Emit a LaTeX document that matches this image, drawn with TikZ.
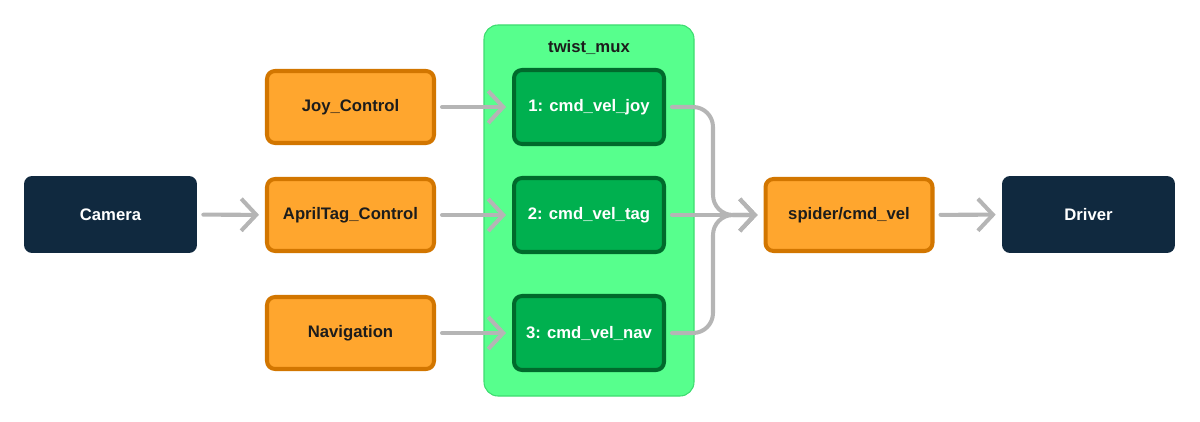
\documentclass[tikz,border=0pt]{standalone}
\usepackage{fontspec}
\setmainfont{Liberation Sans}
\usetikzlibrary{arrows.meta}
\definecolor{navy}{HTML}{10293F}
\definecolor{orfill}{HTML}{FFA62E}
\definecolor{ordraw}{HTML}{D27600}
\definecolor{muxbg}{HTML}{57FF8D}
\definecolor{muxline}{HTML}{3EDC70}
\definecolor{gnfill}{HTML}{00B04F}
\definecolor{gndraw}{HTML}{006A2C}
\definecolor{arrgray}{HTML}{B5B5B5}
\definecolor{txt}{HTML}{1C1C1C}
\begin{document}
\begin{tikzpicture}[x=0.02cm,y=-0.02cm,>={Straight Barb[length=0.3cm,width=0.64cm]},line join=round,line cap=round,font=\fontsize{9.5}{11}\selectfont\bfseries,
	hw/.style={fill=navy,text=white,rounded corners=0.16cm,minimum width=3.46cm,minimum height=1.54cm},
	topic/.style={fill=orfill,draw=ordraw,line width=2.3pt,text=txt,rounded corners=0.16cm,minimum width=3.34cm,minimum height=1.44cm},
	muxin/.style={fill=gnfill,draw=gndraw,line width=2.3pt,text=white,rounded corners=0.16cm,minimum width=3.0cm,minimum height=1.48cm},
	link/.style={->,draw=arrgray,line width=2.3pt,shorten <=0.12cm,shorten >=0.12cm}]
	\useasboundingbox (0,0) rectangle (1200,422);
	\draw[fill=muxbg,draw=muxline,line width=0.6pt,rounded corners=0.28cm] (484,25) rectangle (694,396);
	\node[text=txt] (muxlbl) at (589,47) {twist\_mux};
	\node[hw] (cam) at (110.5,214.5) {Camera};
	\node[topic] (joyc) at (350.5,107) {Joy\_Control};
	\node[topic] (tagc) at (350.5,215) {AprilTag\_Control};
	\node[topic] (navc) at (350.5,333) {Navigation};
	\node[muxin] (joy) at (589,107) {1: cmd\_vel\_joy};
	\node[muxin] (tag) at (589,215) {2: cmd\_vel\_tag};
	\node[muxin] (nav) at (589,333) {3: cmd\_vel\_nav};
	\node[topic] (spider) at (849,215) {spider/cmd\_vel};
	\node[hw] (drv) at (1088.5,214.5) {Driver};
	\draw[link] (cam)--(tagc);
	\draw[link] (joyc)--(joy);
	\draw[link] (tagc)--(tag);
	\draw[link] (navc)--(nav);
	\draw[link] (tag)--(spider);
	\draw[link,rounded corners=0.4cm] (joy.east)--(713,107)--(713,215)--(spider.west);
	\draw[link,rounded corners=0.4cm] (nav.east)--(713,333)--(713,215)--(spider.west);
	\draw[link] (spider)--(drv);
\end{tikzpicture}
\end{document}
